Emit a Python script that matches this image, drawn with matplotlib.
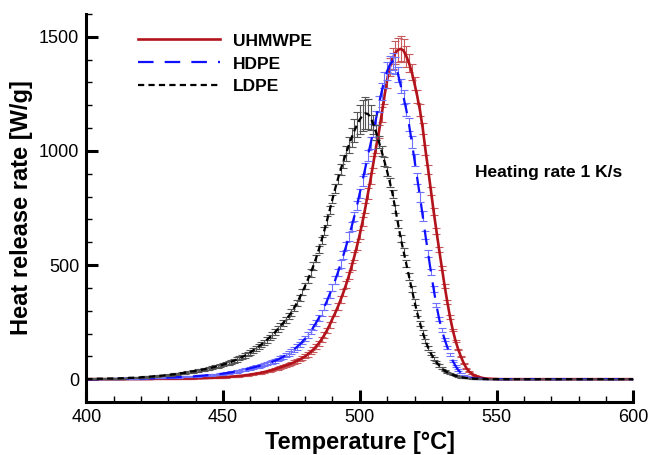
import numpy as np
import matplotlib
matplotlib.use("Agg")
import matplotlib.pyplot as plt
from matplotlib.ticker import MultipleLocator

plt.rcParams['font.family'] = ['Liberation Sans', 'DejaVu Sans']

# temperature grid, one reading per degree
temperature = np.arange(400, 601)

# heat release rate [W/g]
uhmwpe = [
    0, 0, 0, 0, 0, 0, 0, 0, 0, 0,
    0, 0, 0, 0, 0, 1, 1, 1, 1, 1,
    1, 1, 1, 1, 1, 2, 2, 2, 2, 2,
    2, 2, 2, 2, 3, 3, 3, 3, 3, 3,
    4, 4, 4, 5, 5, 6, 6, 7, 7, 8,
    8, 9, 10, 11, 12, 13, 14, 15, 17, 18,
    20, 22, 24, 26, 28, 31, 34, 37, 40, 44,
    48, 52, 56, 60, 64, 69, 74, 80, 86, 93,
    100, 109, 119, 130, 143, 157, 174, 193, 214, 238,
    265, 290, 318, 348, 380, 415, 453, 494, 538, 585,
    635, 690, 750, 815, 880, 950, 1020, 1085, 1160, 1240,
    1310, 1368, 1405, 1430, 1443, 1447, 1440, 1415, 1385, 1345,
    1295, 1240, 1178, 1100, 1005, 918, 825, 735, 650, 568,
    488, 410, 338, 272, 215, 168, 130, 98, 70, 48,
    33, 23, 16, 11, 7, 5, 3, 2, 2, 1,
    1, 0, 0, 0, 0, 0, 0, 0, 0, 0,
    0, 0, 0, 0, 0, 0, 0, 0, 0, 0,
    0, 0, 0, 0, 0, 0, 0, 0, 0, 0,
    0, 0, 0, 0, 0, 0, 0, 0, 0, 0,
    0, 0, 0, 0, 0, 0, 0, 0, 0, 0,
    0,
]
uhmwpe_err = [
    0, 0, 0, 0, 0, 0, 0, 0, 0, 0,
    0, 0, 0, 0, 0, 1, 1, 1, 1, 1,
    1, 1, 1, 1, 1, 1, 1, 1, 1, 1,
    1, 1, 1, 1, 1, 1, 1, 1, 1, 1,
    1, 1, 1, 1, 1, 2, 2, 2, 2, 2,
    2, 2, 2, 2, 2, 3, 3, 3, 3, 3,
    3, 3, 3, 4, 4, 4, 4, 5, 5, 5,
    6, 6, 6, 7, 7, 7, 8, 8, 8, 9,
    9, 10, 10, 10, 11, 11, 12, 12, 12, 13,
    13, 14, 14, 15, 15, 16, 16, 17, 18, 18,
    20, 21, 22, 24, 25, 26, 28, 30, 32, 34,
    36, 40, 45, 50, 54, 55, 52, 46, 40, 35,
    30, 28, 26, 24, 22, 20, 18, 16, 14, 12,
    10, 9, 8, 7, 6, 5, 4, 3, 3, 2,
    2, 1, 1, 1, 1, 1, 1, 0, 0, 0,
    0, 0, 0, 0, 0, 0, 0, 0, 0, 0,
    0, 0, 0, 0, 0, 0, 0, 0, 0, 0,
    0, 0, 0, 0, 0, 0, 0, 0, 0, 0,
    0, 0, 0, 0, 0, 0, 0, 0, 0, 0,
    0, 0, 0, 0, 0, 0, 0, 0, 0, 0,
    0,
]

hdpe = [
    0, 0, 0, 0, 0, 1, 1, 1, 1, 1,
    1, 1, 1, 2, 2, 2, 2, 2, 3, 3,
    3, 3, 4, 4, 4, 5, 5, 6, 6, 7,
    7, 8, 8, 9, 9, 10, 10, 11, 12, 12,
    13, 14, 15, 16, 17, 18, 19, 20, 21, 23,
    24, 26, 28, 30, 32, 34, 37, 40, 42, 45,
    48, 51, 54, 57, 60, 64, 68, 72, 76, 81,
    86, 92, 98, 105, 113, 122, 131, 141, 152, 164,
    178, 193, 209, 227, 247, 268, 291, 316, 343, 372,
    402, 434, 468, 505, 543, 583, 625, 668, 714, 762,
    815, 870, 925, 980, 1035, 1090, 1145, 1205, 1260, 1310,
    1350, 1378, 1393, 1375, 1335, 1285, 1235, 1180, 1115, 1040,
    960, 880, 800, 715, 630, 550, 470, 395, 325, 265,
    215, 175, 140, 108, 80, 58, 40, 27, 17, 11,
    7, 5, 3, 2, 2, 1, 1, 0, 0, 0,
    0, 0, 0, 0, 0, 0, 0, 0, 0, 0,
    0, 0, 0, 0, 0, 0, 0, 0, 0, 0,
    0, 0, 0, 0, 0, 0, 0, 0, 0, 0,
    0, 0, 0, 0, 0, 0, 0, 0, 0, 0,
    0, 0, 0, 0, 0, 0, 0, 0, 0, 0,
    0,
]
hdpe_err = [
    0, 0, 0, 0, 0, 1, 1, 1, 1, 1,
    1, 1, 1, 1, 1, 1, 1, 1, 1, 1,
    1, 1, 1, 1, 1, 1, 1, 1, 1, 1,
    2, 2, 2, 2, 2, 2, 2, 2, 2, 2,
    3, 3, 3, 3, 3, 3, 3, 3, 3, 3,
    4, 4, 4, 4, 4, 5, 5, 5, 5, 5,
    6, 6, 6, 6, 7, 7, 7, 7, 8, 8,
    8, 9, 9, 9, 10, 10, 10, 11, 11, 11,
    12, 12, 12, 13, 13, 13, 14, 14, 14, 15,
    15, 16, 16, 17, 17, 18, 18, 19, 19, 20,
    20, 22, 24, 26, 28, 30, 32, 34, 36, 36,
    38, 38, 38, 36, 34, 32, 30, 28, 28, 26,
    25, 24, 22, 20, 18, 16, 14, 12, 10, 9,
    8, 7, 6, 5, 4, 3, 3, 2, 2, 1,
    1, 1, 1, 1, 1, 0, 0, 0, 0, 0,
    0, 0, 0, 0, 0, 0, 0, 0, 0, 0,
    0, 0, 0, 0, 0, 0, 0, 0, 0, 0,
    0, 0, 0, 0, 0, 0, 0, 0, 0, 0,
    0, 0, 0, 0, 0, 0, 0, 0, 0, 0,
    0, 0, 0, 0, 0, 0, 0, 0, 0, 0,
    0,
]

ldpe = [
    1, 1, 1, 2, 2, 2, 2, 2, 3, 3,
    3, 3, 4, 4, 5, 5, 6, 6, 7, 7,
    8, 9, 10, 11, 12, 13, 14, 15, 16, 17,
    18, 20, 21, 23, 25, 26, 28, 30, 32, 34,
    36, 38, 40, 43, 45, 48, 51, 54, 57, 60,
    64, 68, 72, 76, 81, 86, 91, 97, 103, 110,
    118, 126, 134, 143, 152, 162, 172, 183, 194, 206,
    219, 232, 246, 261, 276, 292, 312, 334, 357, 382,
    408, 436, 465, 496, 530, 568, 608, 650, 695, 742,
    790, 835, 878, 918, 955, 990, 1025, 1058, 1088, 1115,
    1138, 1155, 1165, 1162, 1145, 1115, 1080, 1040, 998, 955,
    910, 862, 810, 745, 680, 615, 560, 505, 450, 395,
    340, 290, 245, 205, 168, 138, 112, 92, 75, 60,
    48, 38, 30, 24, 19, 15, 12, 9, 7, 5,
    4, 3, 2, 2, 1, 1, 1, 0, 0, 0,
    0, 0, 0, 0, 0, 0, 0, 0, 0, 0,
    0, 0, 0, 0, 0, 0, 0, 0, 0, 0,
    0, 0, 0, 0, 0, 0, 0, 0, 0, 0,
    0, 0, 0, 0, 0, 0, 0, 0, 0, 0,
    0, 0, 0, 0, 0, 0, 0, 0, 0, 0,
    0,
]
ldpe_err = [
    1, 1, 1, 1, 1, 1, 1, 1, 1, 1,
    2, 2, 2, 2, 2, 2, 2, 2, 2, 2,
    3, 3, 3, 3, 3, 3, 3, 3, 3, 3,
    4, 4, 4, 4, 4, 4, 4, 4, 5, 5,
    6, 6, 6, 6, 6, 7, 7, 7, 7, 7,
    8, 8, 8, 8, 9, 9, 9, 9, 10, 10,
    10, 10, 11, 11, 11, 11, 12, 12, 12, 12,
    12, 13, 13, 13, 13, 14, 14, 14, 14, 15,
    15, 15, 16, 16, 16, 17, 17, 17, 18, 18,
    18, 20, 22, 25, 28, 32, 36, 42, 50, 56,
    62, 68, 70, 66, 55, 42, 32, 26, 22, 20,
    20, 20, 18, 18, 16, 16, 15, 15, 14, 14,
    13, 12, 11, 10, 9, 8, 7, 6, 5, 5,
    4, 4, 3, 3, 2, 2, 2, 2, 1, 1,
    1, 1, 1, 1, 1, 0, 0, 0, 0, 0,
    0, 0, 0, 0, 0, 0, 0, 0, 0, 0,
    0, 0, 0, 0, 0, 0, 0, 0, 0, 0,
    0, 0, 0, 0, 0, 0, 0, 0, 0, 0,
    0, 0, 0, 0, 0, 0, 0, 0, 0, 0,
    0, 0, 0, 0, 0, 0, 0, 0, 0, 0,
    0,
]

fig = plt.figure(figsize=(6.52, 4.55), dpi=100)
ax = fig.add_axes([86.3 / 652, 53 / 455, 547 / 652, 388 / 455])

series = [
    ("UHMWPE", uhmwpe, uhmwpe_err, "#b3131b", "#c85a5e", "-", 1.9),
    ("HDPE", hdpe, hdpe_err, "#1010ff", "#7070ff", (0, (7.0, 5.0)), 1.6),
    ("LDPE", ldpe, ldpe_err, "black", "#555555", (0, (2.8, 1.9)), 1.6),
]

for name, vals, errs, col, ecol, ls, lw in series:
    ax.errorbar(temperature, vals, yerr=errs, fmt='none', ecolor=ecol,
                elinewidth=0.8, capsize=2.8, capthick=0.8)
    ax.plot(temperature, vals, color=col, linestyle=ls, linewidth=lw, label=name)

ax.set_xlim(400, 600)
ax.set_ylim(-100, 1600)
ax.xaxis.set_major_locator(MultipleLocator(50))
ax.xaxis.set_minor_locator(MultipleLocator(10))
ax.yaxis.set_major_locator(MultipleLocator(500))
ax.yaxis.set_minor_locator(MultipleLocator(100))

for side in ['top', 'right']:
    ax.spines[side].set_visible(False)
for side in ['left', 'bottom']:
    ax.spines[side].set_linewidth(2.2)

ax.tick_params(which='major', direction='in', length=8.5, width=2.2, labelsize=13, pad=5)
ax.tick_params(which='minor', direction='in', length=4.5, width=1.0)

ax.set_xlabel("Temperature [\u00b0C]", fontsize=17, fontweight='bold', labelpad=4)
ax.set_ylabel("Heat release rate [W/g]", fontsize=17, fontweight='bold', labelpad=4)

ax.text(542, 905, "Heating rate 1 K/s", fontsize=12.5, fontweight='bold',
        ha='left', va='center')

ax.legend(loc='upper left', bbox_to_anchor=(0.0945, 0.95), frameon=False,
          prop={'weight': 'bold', 'size': 12.5}, handlelength=4.7,
          handletextpad=0.75, labelspacing=0.45, borderpad=0, borderaxespad=0)

fig.savefig("out.png", dpi=100)
